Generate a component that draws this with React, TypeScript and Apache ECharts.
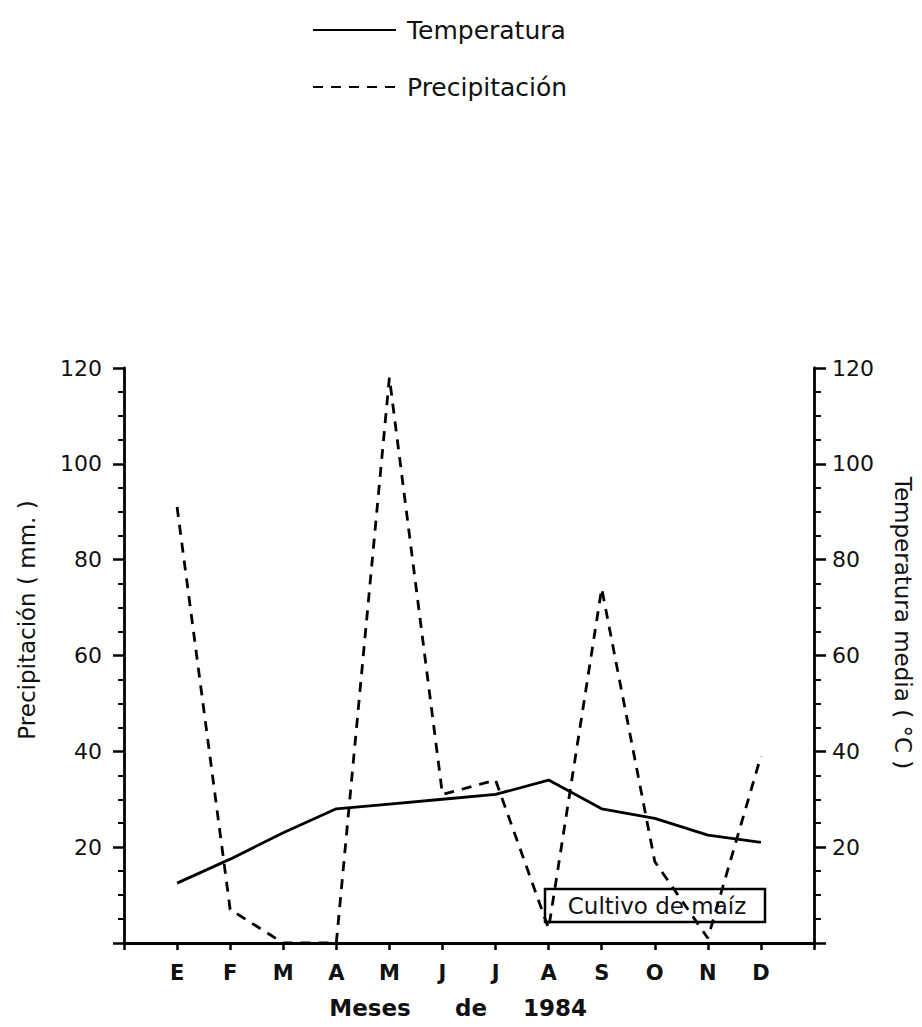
import React, { useEffect, useRef } from "react";
import * as echarts from "echarts";

const months = ["E", "F", "M", "A", "M", "J", "J", "A", "S", "O", "N", "D"];
const categories = ["", ...months, ""];
const precipitation = [91, 7, 0, 0, 118, 31, 34, 3, 74, 17, 1, 39];
const temperature = [12.5, 17.5, 23, 28, 29, 30, 31, 34, 28, 26, 22.5, 21];
const yMin = 0;
const yMax = 120;
const yInterval = 20;

const FONT = "DejaVu Sans";

export default function App() {
  const ref = useRef<HTMLDivElement>(null);
  useEffect(() => {
    if (!ref.current) return;
    const chart = echarts.init(ref.current, null, { renderer: "svg" });
    const toPairs = (arr: number[]) => arr.map((v, i) => [i + 1, v]);
    const axisLine = { show: true, lineStyle: { color: "#000", width: 2.8 } };
    chart.setOption({
      animation: false,
      backgroundColor: "#fff",
      textStyle: { fontFamily: FONT, color: "#111" },
      grid: { left: 124, right: 108, top: 368, bottom: 84, containLabel: false },
      legend: {
        orient: "vertical",
        left: 307,
        top: 10,
        itemWidth: 83,
        itemHeight: 14,
        itemGap: 27,
        selectedMode: false,
        itemStyle: { opacity: 0 },
        textStyle: { fontSize: 25, color: "#111", lineHeight: 30, padding: [0, 0, 0, 6], fontFamily: FONT },
        data: ["Temperatura", "Precipitación"],
      },
      xAxis: {
        type: "category",
        data: categories,
        boundaryGap: false,
        axisLine,
        axisTick: { show: true, length: 7, lineStyle: { width: 2.5, color: "#000" } },
        axisLabel: { fontSize: 21, fontWeight: "bold", color: "#111", margin: 19, fontFamily: FONT },
        splitLine: { show: false },
      },
      yAxis: [
        {
          type: "value",
          min: yMin,
          max: yMax,
          interval: yInterval,
          position: "left",
          axisLine,
          axisTick: { show: true, length: 11, lineStyle: { width: 2.5, color: "#000" } },
          minorTick: { show: true, splitNumber: 4, length: 6, lineStyle: { width: 2, color: "#000" } },
          axisLabel: {
            fontSize: 22,
            color: "#111",
            margin: 22,
            fontFamily: FONT,
            formatter: (v: number) => (v === 0 ? "" : String(v)),
          },
          splitLine: { show: false },
        },
        {
          type: "value",
          min: yMin,
          max: yMax,
          interval: yInterval,
          position: "right",
          axisLine,
          axisTick: { show: true, length: 12, lineStyle: { width: 2.5, color: "#000" } },
          minorTick: { show: true, splitNumber: 4, length: 7, lineStyle: { width: 2, color: "#000" } },
          axisLabel: {
            fontSize: 22,
            color: "#111",
            margin: 18,
            fontFamily: FONT,
            formatter: (v: number) => (v === 0 ? "" : String(v)),
          },
          splitLine: { show: false },
        },
      ],
      series: [
        {
          name: "Temperatura",
          type: "line",
          yAxisIndex: 1,
          data: toPairs(temperature),
          symbol: "none",
          lineStyle: { color: "#000", width: 2.8, type: "solid" },
          itemStyle: { color: "#000" },
        },
        {
          name: "Precipitación",
          type: "line",
          yAxisIndex: 0,
          data: toPairs(precipitation),
          symbol: "none",
          lineStyle: { color: "#000", width: 2.8, type: [10, 8] },
          itemStyle: { color: "#000" },
        },
      ],
      graphic: [
        {
          type: "text",
          x: 27,
          y: 620,
          rotation: Math.PI / 2,
          style: {
            text: "Precipitación ( mm. )",
            font: `23px "${FONT}"`,
            fill: "#111",
            textAlign: "center",
            textVerticalAlign: "middle",
          },
        },
        {
          type: "text",
          x: 903,
          y: 623,
          rotation: -Math.PI / 2,
          style: {
            text: "Temperatura media ( °C )",
            font: `23px "${FONT}"`,
            fill: "#111",
            textAlign: "center",
            textVerticalAlign: "middle",
          },
        },
        {
          type: "text",
          x: 370,
          y: 1008,
          style: { text: "Meses", font: `bold 23px "${FONT}"`, fill: "#111", textAlign: "center", textVerticalAlign: "middle" },
        },
        {
          type: "text",
          x: 471,
          y: 1008,
          style: { text: "de", font: `bold 23px "${FONT}"`, fill: "#111", textAlign: "center", textVerticalAlign: "middle" },
        },
        {
          type: "text",
          x: 555,
          y: 1008,
          style: { text: "1984", font: `bold 23px "${FONT}"`, fill: "#111", textAlign: "center", textVerticalAlign: "middle" },
        },
        {
          type: "rect",
          shape: { x: 545, y: 889, width: 220, height: 33 },
          style: { fill: "none", stroke: "#000", lineWidth: 2.5 },
          z: 10,
        },
        {
          type: "text",
          x: 657,
          y: 906,
          z: 11,
          style: { text: "Cultivo de maíz", font: `23px "${FONT}"`, fill: "#111", textAlign: "center", textVerticalAlign: "middle" },
        },
      ],
    });
    return () => chart.dispose();
  }, []);
  return <div ref={ref} style={{ position: "absolute", left: 0, top: 0, width: 922, height: 1027 }} />;
}
